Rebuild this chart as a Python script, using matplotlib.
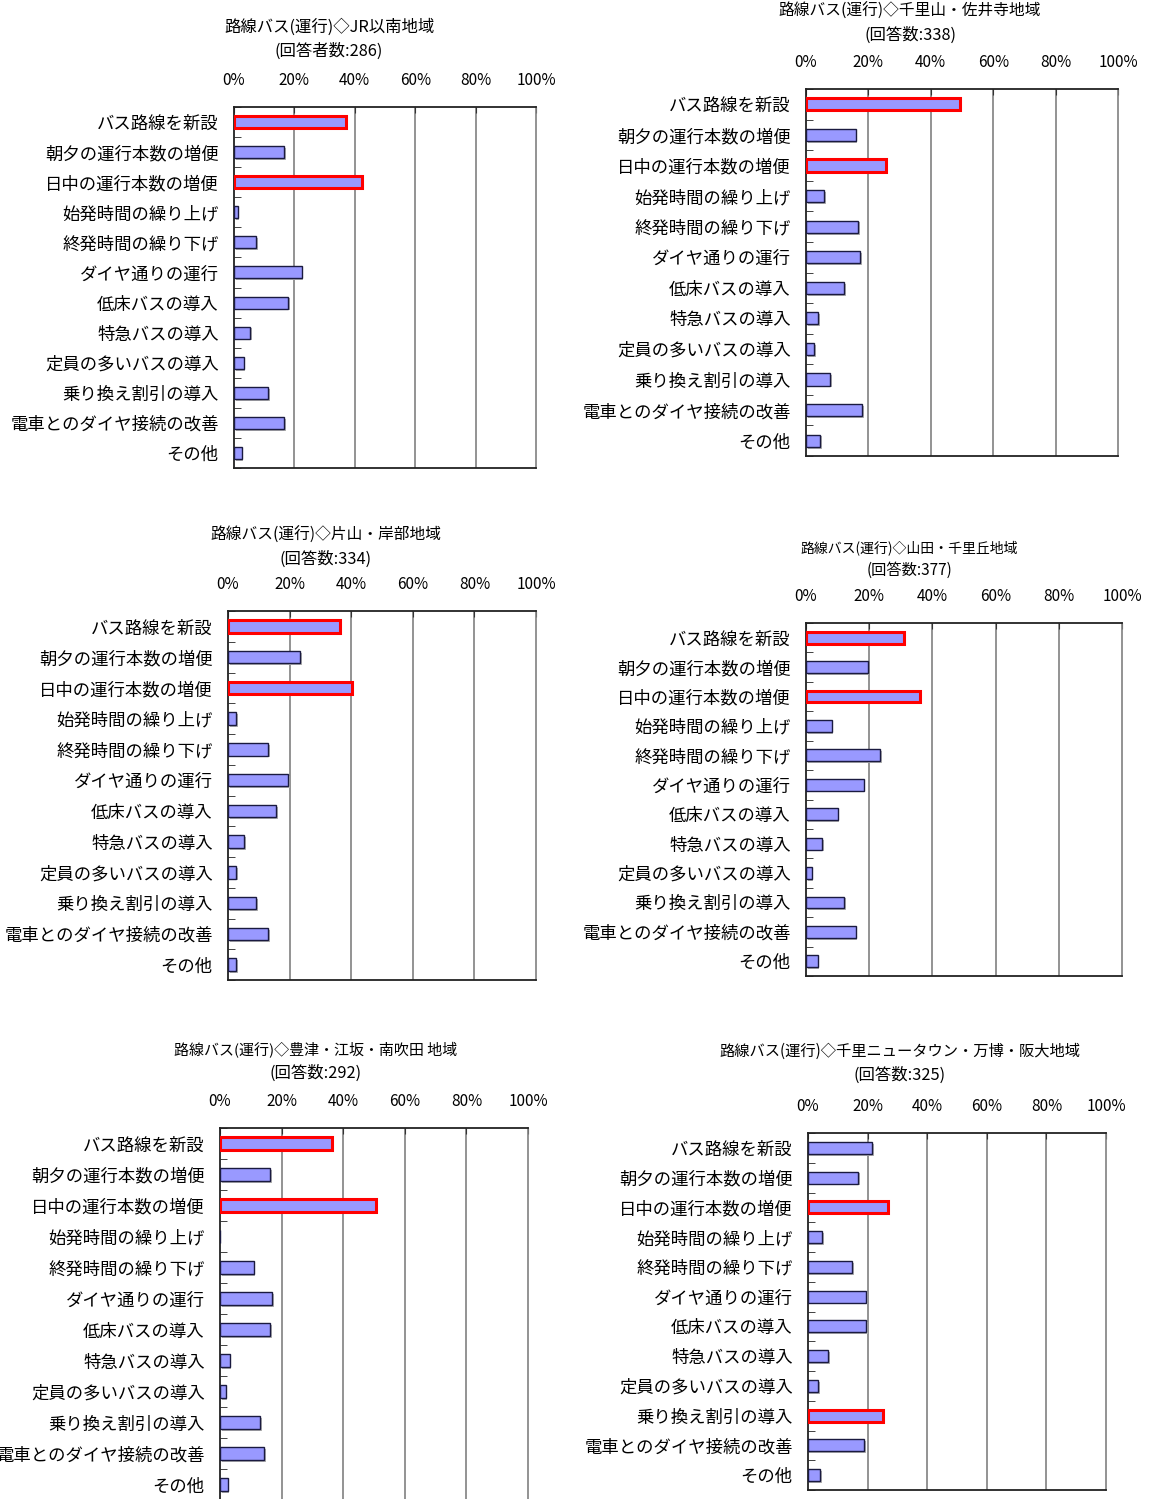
import matplotlib
matplotlib.use("Agg")
import matplotlib.pyplot as plt
import numpy as np

plt.rcParams['font.family'] = ['Noto Sans CJK JP', 'DejaVu Sans']

categories = [
    "バス路線を新設", "朝夕の運行本数の増便", "日中の運行本数の増便",
    "始発時間の繰り上げ", "終発時間の繰り下げ", "ダイヤ通りの運行",
    "低床バスの導入", "特急バスの導入", "定員の多いバスの導入",
    "乗り換え割引の導入", "電車とのダイヤ接続の改善", "その他",
]
x_ticks = [0, 20, 40, 60, 80, 100]
x_tick_labels = ["0%", "20%", "40%", "60%", "80%", "100%"]

titles = [
    "路線バス(運行)◇JR以南地域",
    "路線バス(運行)◇千里山・佐井寺地域",
    "路線バス(運行)◇片山・岸部地域",
    "路線バス(運行)◇山田・千里丘地域",
    "路線バス(運行)◇豊津・江坂・南吹田 地域",
    "路線バス(運行)◇千里ニュータウン・万博・阪大地域",
]
subtitles = [
    "(回答者数:286)", "(回答数:338)", "(回答数:334)",
    "(回答数:377)", "(回答数:292)", "(回答数:325)",
]

# Percentages per region
jr_south = [37.0, 16.6, 42.5, 1.2, 7.3, 22.5, 17.9, 5.3, 3.3, 11.3, 16.6, 2.5]
senriyama = [49.4, 16.0, 25.8, 5.8, 16.8, 17.4, 12.2, 3.9, 2.7, 7.8, 18.1, 4.5]
katayama = [36.4, 23.5, 40.2, 2.7, 13.0, 19.5, 15.6, 5.3, 2.7, 9.1, 13.0, 2.7]
yamada = [31.0, 19.5, 36.1, 8.1, 23.4, 18.3, 10.1, 5.1, 1.8, 12.0, 15.7, 3.7]
toyotsu = [36.4, 16.3, 50.7, 0.0, 10.9, 16.9, 16.3, 3.1, 1.8, 13.0, 14.3, 2.5]
newtown = [21.6, 16.9, 27.0, 4.8, 14.9, 19.6, 19.6, 6.8, 3.5, 25.0, 18.9, 4.1]

# Indices of the top-ranked answers in each region (outlined in red)
highlights = [[0, 2], [0, 2], [0, 2], [0, 2], [0, 2], [2, 9]]

series = [jr_south, senriyama, katayama, yamada, toyotsu, newtown]

W, H = 1149, 1499
fig = plt.figure(figsize=(W / 100, H / 100), dpi=100)

# Layout of each panel in pixels: axes box (left, top, right, bottom),
# title centre x, title line y, subtitle y, title font sizes
layout = [
    dict(box=(234, 107, 536, 468), cx=329, ty=27, sy=51, tfs=11.8, sfs=11.8),
    dict(box=(806, 89, 1118, 456), cx=910, ty=11, sy=35, tfs=11.3, sfs=11.8),
    dict(box=(228, 611, 536, 980), cx=326, ty=535, sy=559, tfs=11.3, sfs=11.8),
    dict(box=(806, 623, 1122, 976), cx=909, ty=548, sy=570, tfs=10.0, sfs=11.0),
    dict(box=(220, 1128, 528, 1500), cx=316, ty=1049, sy=1073, tfs=10.8, sfs=11.8),
    dict(box=(808, 1133, 1106, 1490), cx=900, ty=1051, sy=1075, tfs=11.0, sfs=11.8),
]

bar_face = "#9999FF"
n = len(categories)
ypos = np.arange(n)

for vals, hl, title, sub, lay in zip(series, highlights, titles, subtitles, layout):
    l, t, r, b = lay["box"]
    ax = fig.add_axes([l / W, 1 - b / H, (r - l) / W, (b - t) / H])
    edges = ["#FF0000" if i in hl else "#1a1a40" for i in range(n)]
    lws = [2.2 if i in hl else 1.0 for i in range(n)]
    # soft shadow on the right of each bar
    ax.barh(ypos + 0.06, vals, height=0.4, left=0.5, color="#b0b0b0",
            edgecolor="none", zorder=2)
    ax.barh(ypos, vals, height=0.4, color=bar_face, edgecolor=edges,
            linewidth=lws, zorder=3)
    ax.set_xlim(0, 100)
    ax.set_ylim(n - 0.5, -0.5)

    ax.xaxis.tick_top()
    ax.set_xticks(x_ticks)
    ax.set_xticklabels(x_tick_labels, fontsize=11)
    ax.tick_params(axis="x", direction="in", length=4, pad=13, color="#333333")

    ax.set_yticks(ypos)
    ax.set_yticklabels(categories, fontsize=12.5)
    ax.tick_params(axis="y", which="major", length=0, pad=11)
    ax.set_yticks(np.arange(n + 1) - 0.5, minor=True)
    ax.tick_params(axis="y", which="minor", direction="in", length=5,
                   color="#222222")

    for xv in x_ticks[1:-1]:
        ax.axvline(xv, color="#808080", linewidth=1.2, zorder=1)

    for side in ["top", "left", "bottom"]:
        ax.spines[side].set_color("#222222")
        ax.spines[side].set_linewidth(1.3)
    ax.spines["right"].set_color("#808080")
    ax.spines["right"].set_linewidth(1.2)

    fig.text(lay["cx"] / W, 1 - lay["ty"] / H, title, ha="center",
             va="center", fontsize=lay["tfs"])
    fig.text(lay["cx"] / W, 1 - lay["sy"] / H, sub, ha="center",
             va="center", fontsize=lay["sfs"])

fig.savefig("out.png", dpi=100, facecolor="white")
